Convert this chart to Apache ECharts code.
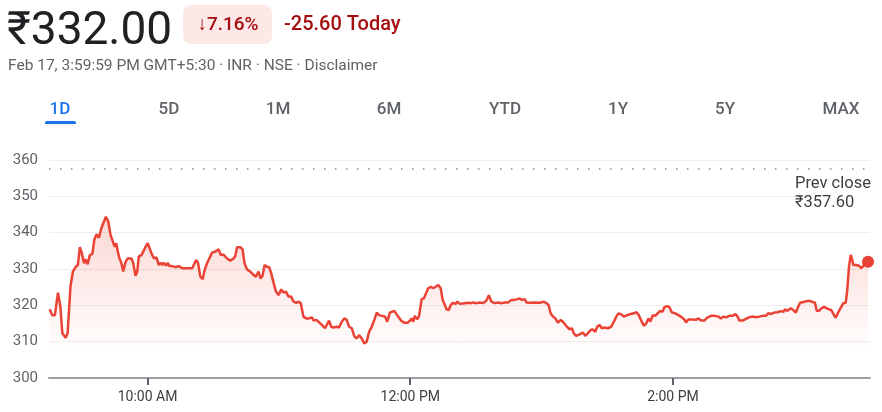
<!DOCTYPE html>
<html>
<head>
<meta charset="utf-8">
<script src="https://cdn.jsdelivr.net/npm/echarts@6.0.0/dist/echarts.min.js"></script>
<style>
html,body{margin:0;padding:0;background:#fff;}
#chart{width:882px;height:412px;}
</style>
</head>
<body>
<div id="chart"></div>
<script>
// Time in minutes since midnight (9:15 = 555, 15:30 = 930)
const times = [
555.3,556.5,557.7,559.1,560.2,561.1,562.6,563.5,564.8,565.9,567.2,568.2,569.1,570.0,571.0,571.7,572.6,573.7,574.8,575.7,
576.7,577.8,578.9,579.8,581.0,582.1,583.1,583.9,585.0,585.7,586.6,587.2,588.1,588.9,590.0,591.2,592.7,593.5,594.5,595.3,
596.0,597.3,598.0,599.1,600.1,601.0,602.1,603.0,604.1,605.1,605.9,606.7,607.4,608.5,609.2,610.0,611.2,612.7,614.3,615.8,617.3,
620.4,621.1,622.2,623.1,624.1,625.2,626.1,627.2,628.2,629.5,631.0,632.5,633.4,634.8,636.3,637.8,639.3,640.1,640.9,642.4,
643.4,644.3,645.4,646.9,648.4,649.5,650.7,651.6,652.5,653.5,654.5,655.6,656.5,657.6,658.6,659.8,661.1,662.1,663.2,664.4,
665.6,666.7,667.9,669.0,670.0,671.2,672.5,673.8,675.1,675.8,677.0,678.1,679.6,681.1,
681.9,682.9,683.9,684.9,686.5,687.5,688.7,689.9,691.0,692.1,693.3,694.5,695.6,696.6,697.8,699.0,700.1,701.2,702.4,703.6,
704.7,705.7,707.2,708.5,709.5,710.7,711.5,712.6,713.5,714.5,715.8,717.3,718.8,719.9,720.6,721.4,722.1,723.1,724.0,725.2,
726.2,727.0,728.2,729.4,730.5,731.6,732.8,733.9,734.8,735.5,736.6,737.6,738.5,739.6,740.7,741.6,742.6,744.9,
746.4,747.7,748.7,750.3,751.8,753.3,754.8,755.9,757.1,758.6,760.1,761.7,763.2,764.7,766.2,767.7,769.0,770.0,771.0,772.3,
773.1,774.6,776.8,779.1,781.1,782.2,783.2,784.1,785.2,786.3,787.5,788.7,789.7,790.5,791.6,792.8,793.8,794.7,795.8,797.3,
798.9,799.9,801.1,802.4,803.4,804.5,805.4,806.5,807.5,808.7,
810.2,811.8,813.0,814.1,815.1,816.4,817.5,819.1,820.6,822.1,823.3,824.4,825.5,826.7,827.7,828.8,829.7,830.8,831.9,833.0,
834.1,835.2,836.1,837.3,838.4,839.4,841.0,842.5,844.0,845.2,846.0,847.0,847.9,849.0,850.5,851.7,852.8,854.3,855.8,857.4,
859.2,860.7,861.9,863.1,864.2,865.7,867.2,868.5,869.5,870.3,871.8,
872.6,873.8,874.8,876.3,877.9,879.4,880.9,882.4,883.5,884.7,886.2,887.7,889.3,890.5,891.1,892.3,893.8,895.0,896.1,897.2,
898.1,899.6,901.1,902.6,903.7,904.8,905.7,906.7,907.8,909.0,910.2,911.3,912.3,913.6,914.3,915.4,916.3,916.9,917.8,918.9,
919.6,920.4,921.2,921.9,922.4,923.5,925.0,926.0,926.9,928.0,929.1
];
const prices = [
318.9,317.3,317.3,323.5,319.6,312.3,311.1,312.3,325.1,329.3,330.6,331.1,336.0,334.3,331.6,332.7,331.3,333.9,334.1,338.0,
339.6,338.6,341.2,342.6,344.4,343.0,339.4,338.9,336.1,337.1,334.3,332.9,331.6,329.3,332.0,333.0,332.8,331.6,328.1,329.3,
333.4,333.9,333.6,336.1,337.1,336.9,333.9,332.9,333.2,331.1,331.7,331.1,331.7,330.9,331.7,330.8,330.8,330.5,330.8,330.2,330.2,
330.2,329.9,332.5,331.6,327.9,327.2,329.7,331.6,332.9,334.5,334.8,335.4,333.9,333.9,332.9,332.3,332.9,333.6,336.0,336.0,
335.4,331.6,329.9,329.3,328.4,327.9,329.3,327.4,328.1,331.1,330.6,330.5,328.8,326.1,323.9,322.8,324.4,323.5,323.8,322.4,
322.4,321.0,320.7,321.0,320.6,316.9,316.4,316.4,316.7,315.8,316.0,315.5,314.6,313.7,
314.1,315.8,314.1,313.9,314.1,313.9,315.5,316.4,316.0,314.1,313.7,311.4,310.9,311.8,310.9,309.5,310.0,312.7,314.1,316.0,
318.0,317.3,317.1,316.9,315.5,318.0,317.5,318.5,317.8,316.9,315.8,315.2,315.2,315.8,316.4,315.5,317.1,316.2,316.9,321.7,
321.9,322.1,324.7,325.1,324.7,325.1,325.6,324.7,321.5,321.9,318.9,318.7,320.1,320.7,320.4,321.0,320.4,320.6,
320.7,320.6,320.8,320.6,320.8,320.6,321.3,322.8,321.0,320.6,320.8,320.6,320.8,320.8,321.5,321.5,321.7,321.9,321.5,321.7,
320.8,320.7,320.8,320.7,321.0,320.6,320.1,317.8,316.9,316.4,315.2,316.0,315.5,316.0,314.1,313.4,313.7,312.3,311.6,312.0,
312.5,311.6,312.3,313.2,313.4,312.7,314.1,314.6,313.7,313.9,
313.7,314.1,315.5,316.9,317.8,317.5,316.9,317.3,317.6,317.8,318.1,317.3,315.8,314.4,314.9,316.4,315.5,317.3,317.1,317.8,
318.5,318.2,319.5,319.8,319.5,318.1,317.8,317.3,316.7,316.1,315.3,316.1,315.8,316.1,316.0,316.4,315.8,315.8,316.7,317.1,
317.1,316.9,316.4,316.9,316.7,317.1,317.1,317.6,316.9,315.8,315.8,
316.0,316.4,316.7,316.9,316.7,316.9,317.1,317.1,317.8,317.6,318.0,318.1,318.4,318.2,318.9,318.5,319.2,318.7,318.0,319.6,
320.7,320.9,321.2,321.2,320.9,320.8,318.5,318.5,319.2,319.6,319.2,318.9,318.7,317.3,316.6,318.0,317.6,319.6,320.6,320.7,
324.2,330.6,333.9,332.5,331.1,331.1,330.9,330.2,330.6,331.6,332.0
];
const tickMinutes = [600, 720, 840];
const tickLabels = ['10:00 AM', '12:00 PM', '2:00 PM'];
const prevClose = 357.60;
const prevCloseText = 'Prev close\n₹357.60';
const priceText = '₹332.00';
const changePct = '↓7.16%';
const changeAbs = '-25.60 Today';
const subtitle = 'Feb 17, 3:59:59 PM GMT+5:30 · INR · NSE · Disclaimer';
const tabs = ['1D', '5D', '1M', '6M', 'YTD', '1Y', '5Y', 'MAX'];
const tabX = [60, 169, 278, 389, 505, 618, 725, 841];

const FONT = 'Roboto, "Noto Sans", sans-serif';
const seriesData = times.map((t, i) => [t, prices[i]]);
const last = seriesData[seriesData.length - 1];

const graphics = [
  { type: 'text', left: 7, top: 9, style: { text: priceText, font: '400 46px ' + FONT, fill: '#202124' } },
  { type: 'rect', shape: { x: 183, y: 5, width: 89, height: 39, r: 8 }, style: { fill: '#fce8e6' } },
  { type: 'text', x: 228, y: 25, style: { text: changePct, font: '500 19px ' + FONT, fill: '#a50e0e', align: 'center', verticalAlign: 'middle' } },
  { type: 'text', x: 284, y: 25, style: { text: changeAbs, font: '500 20px ' + FONT, fill: '#a50e0e', align: 'left', verticalAlign: 'middle' } },
  { type: 'text', x: 8, y: 66, style: { text: subtitle, font: '400 15.5px ' + FONT, fill: '#5f6368', align: 'left', verticalAlign: 'middle' } },
  { type: 'rect', shape: { x: 45, y: 121, width: 31, height: 3, r: [2, 2, 0, 0] }, style: { fill: '#1a73e8' } },
  { type: 'text', x: 795, y: 174, z: 10, style: { text: prevCloseText, font: '400 16.5px ' + FONT, lineHeight: 19, fill: '#3c4043', align: 'left', verticalAlign: 'top', backgroundColor: '#fff' } }
];
tabs.forEach((t, i) => {
  graphics.push({ type: 'text', x: tabX[i], y: 110, style: { text: t, font: '500 17px ' + FONT, fill: i === 0 ? '#1a73e8' : '#5f6368', align: 'center', verticalAlign: 'middle' } });
});

const chart = echarts.init(document.getElementById('chart'), null, { renderer: 'canvas' });
chart.setOption({
  animation: false,
  backgroundColor: '#fff',
  grid: { left: 49, right: 12, top: 160, bottom: 34, containLabel: false },
  xAxis: {
    type: 'value', min: 555, max: 930,
    splitLine: { show: false },
    axisLine: { show: true, lineStyle: { color: '#9aa0a6', width: 2 } },
    axisTick: { show: true, customValues: tickMinutes, length: 7, lineStyle: { color: '#5f6368', width: 2 } },
    axisLabel: {
      show: true, customValues: tickMinutes, margin: 12,
      color: '#3c4043', fontSize: 14, fontFamily: FONT,
      formatter: v => tickLabels[tickMinutes.indexOf(v)] || ''
    }
  },
  yAxis: {
    type: 'value', min: 300, max: 360, interval: 10,
    axisLine: { show: false }, axisTick: { show: false },
    splitLine: { show: true, lineStyle: { color: '#eeeeee', width: 1 } },
    axisLabel: { color: '#5f6368', fontSize: 15, fontFamily: FONT, margin: 11 }
  },
  series: [{
    type: 'line',
    data: seriesData,
    showSymbol: false,
    smooth: false,
    lineStyle: { color: '#ea4335', width: 2.5 },
    areaStyle: {
      origin: 'start',
      color: new echarts.graphic.LinearGradient(0, 0, 0, 1, [
        { offset: 0, color: 'rgba(234,67,53,0.3)' },
        { offset: 0.85, color: 'rgba(234,67,53,0.0)' },
        { offset: 1, color: 'rgba(234,67,53,0.0)' }
      ])
    },
    markLine: {
      silent: true, symbol: 'none', animation: false,
      label: { show: false },
      lineStyle: { color: '#80868b', width: 1.5, type: [1.5, 9.5] },
      data: [{ yAxis: prevClose }]
    },
    markPoint: {
      silent: true, symbol: 'circle', symbolSize: 12,
      itemStyle: { color: '#ea4335' },
      label: { show: false },
      data: [{ coord: last }]
    }
  }],
  graphic: graphics
});
</script>
</body>
</html>
